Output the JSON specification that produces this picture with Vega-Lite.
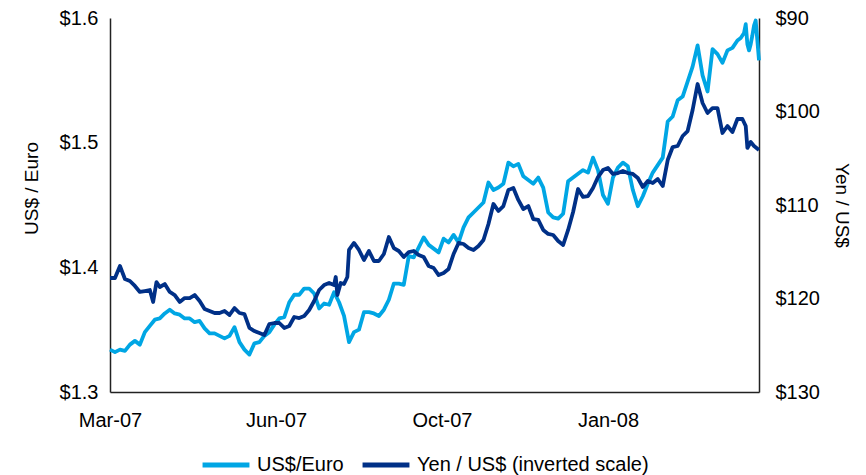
{
  "$schema": "https://vega.github.io/schema/vega-lite/v6.json",
  "width": 649,
  "height": 374,
  "autosize": {"type": "none"},
  "padding": {"left": 110, "top": 18, "right": 107, "bottom": 83},
  "background": "white",
  "config": {
    "view": {"stroke": null},
    "font": "Liberation Sans",
    "axis": {
      "grid": false,
      "ticks": false,
      "domainColor": "#222222",
      "domainWidth": 1.5,
      "labelFont": "Liberation Sans",
      "labelFontSize": 20,
      "labelColor": "#000000",
      "titleFont": "Liberation Sans",
      "titleFontSize": 19,
      "titleFontWeight": "normal",
      "titleColor": "#000000"
    }
  },
  "datasets": {
    "euro": [
      {"date":"2007-03-18","v":1.334},{"date":"2007-03-21","v":1.332},{"date":"2007-03-24","v":1.334},{"date":"2007-03-27","v":1.333},
      {"date":"2007-03-30","v":1.338},{"date":"2007-04-02","v":1.341},{"date":"2007-04-05","v":1.338},{"date":"2007-04-08","v":1.348},
      {"date":"2007-04-11","v":1.353},{"date":"2007-04-14","v":1.358},{"date":"2007-04-17","v":1.359},{"date":"2007-04-20","v":1.363},
      {"date":"2007-04-23","v":1.366},{"date":"2007-04-26","v":1.363},{"date":"2007-04-29","v":1.362},{"date":"2007-05-02","v":1.359},
      {"date":"2007-05-05","v":1.359},{"date":"2007-05-08","v":1.356},{"date":"2007-05-11","v":1.357},{"date":"2007-05-14","v":1.351},
      {"date":"2007-05-17","v":1.347},{"date":"2007-05-20","v":1.347},{"date":"2007-05-23","v":1.345},{"date":"2007-05-26","v":1.343},
      {"date":"2007-05-29","v":1.345},{"date":"2007-06-01","v":1.352},{"date":"2007-06-04","v":1.340},{"date":"2007-06-07","v":1.334},
      {"date":"2007-06-10","v":1.330},{"date":"2007-06-13","v":1.339},{"date":"2007-06-16","v":1.340},{"date":"2007-06-19","v":1.345},
      {"date":"2007-06-22","v":1.348},{"date":"2007-06-25","v":1.354},{"date":"2007-06-28","v":1.359},{"date":"2007-07-01","v":1.360},
      {"date":"2007-07-04","v":1.372},{"date":"2007-07-07","v":1.378},{"date":"2007-07-10","v":1.378},{"date":"2007-07-13","v":1.383},
      {"date":"2007-07-16","v":1.383},{"date":"2007-07-19","v":1.379},{"date":"2007-07-22","v":1.367},{"date":"2007-07-25","v":1.371},
      {"date":"2007-07-28","v":1.370},{"date":"2007-07-31","v":1.380},{"date":"2007-08-03","v":1.372},{"date":"2007-08-06","v":1.361},
      {"date":"2007-08-09","v":1.340},{"date":"2007-08-12","v":1.348},{"date":"2007-08-15","v":1.350},{"date":"2007-08-18","v":1.364},
      {"date":"2007-08-21","v":1.364},{"date":"2007-08-24","v":1.363},{"date":"2007-08-27","v":1.361},{"date":"2007-08-30","v":1.366},
      {"date":"2007-09-02","v":1.374},{"date":"2007-09-05","v":1.387},{"date":"2007-09-08","v":1.387},{"date":"2007-09-11","v":1.386},
      {"date":"2007-09-14","v":1.409},{"date":"2007-09-17","v":1.408},{"date":"2007-09-20","v":1.416},{"date":"2007-09-23","v":1.424},
      {"date":"2007-09-26","v":1.418},{"date":"2007-09-29","v":1.415},{"date":"2007-10-02","v":1.412},{"date":"2007-10-05","v":1.423},
      {"date":"2007-10-08","v":1.420},{"date":"2007-10-11","v":1.426},{"date":"2007-10-14","v":1.420},{"date":"2007-10-17","v":1.432},
      {"date":"2007-10-20","v":1.440},{"date":"2007-10-23","v":1.444},{"date":"2007-10-26","v":1.448},{"date":"2007-10-29","v":1.452},
      {"date":"2007-11-01","v":1.468},{"date":"2007-11-04","v":1.462},{"date":"2007-11-07","v":1.464},{"date":"2007-11-10","v":1.467},
      {"date":"2007-11-13","v":1.484},{"date":"2007-11-16","v":1.481},{"date":"2007-11-19","v":1.483},{"date":"2007-11-22","v":1.473},
      {"date":"2007-11-25","v":1.470},{"date":"2007-11-28","v":1.467},{"date":"2007-12-01","v":1.472},{"date":"2007-12-04","v":1.464},
      {"date":"2007-12-07","v":1.444},{"date":"2007-12-10","v":1.440},{"date":"2007-12-13","v":1.439},{"date":"2007-12-16","v":1.443},
      {"date":"2007-12-19","v":1.469},{"date":"2007-12-22","v":1.472},{"date":"2007-12-25","v":1.475},{"date":"2007-12-28","v":1.478},
      {"date":"2007-12-31","v":1.476},{"date":"2008-01-03","v":1.488},{"date":"2008-01-06","v":1.478},{"date":"2008-01-09","v":1.458},
      {"date":"2008-01-12","v":1.451},{"date":"2008-01-15","v":1.472},{"date":"2008-01-18","v":1.480},{"date":"2008-01-21","v":1.484},
      {"date":"2008-01-24","v":1.481},{"date":"2008-01-27","v":1.462},{"date":"2008-01-30","v":1.449},{"date":"2008-02-02","v":1.457},
      {"date":"2008-02-05","v":1.467},{"date":"2008-02-08","v":1.476},{"date":"2008-02-11","v":1.482},{"date":"2008-02-14","v":1.488},
      {"date":"2008-02-17","v":1.517},{"date":"2008-02-20","v":1.521},{"date":"2008-02-23","v":1.534},{"date":"2008-02-26","v":1.537},
      {"date":"2008-02-29","v":1.549},{"date":"2008-03-03","v":1.561},{"date":"2008-03-06","v":1.578},{"date":"2008-03-09","v":1.554},
      {"date":"2008-03-12","v":1.541},{"date":"2008-03-15","v":1.575},{"date":"2008-03-18","v":1.571},{"date":"2008-03-21","v":1.564},
      {"date":"2008-03-24","v":1.574},{"date":"2008-03-27","v":1.576},{"date":"2008-03-30","v":1.582},{"date":"2008-04-01","v":1.584},
      {"date":"2008-04-03","v":1.588},{"date":"2008-04-04","v":1.595},{"date":"2008-04-05","v":1.579},{"date":"2008-04-06","v":1.574},
      {"date":"2008-04-07","v":1.579},{"date":"2008-04-08","v":1.586},{"date":"2008-04-09","v":1.594},{"date":"2008-04-10","v":1.598},
      {"date":"2008-04-11","v":1.582},{"date":"2008-04-12","v":1.566}
    ],
    "yen": [
      {"date":"2007-03-18","v":117.81},{"date":"2007-03-21","v":117.81},{"date":"2007-03-24","v":116.52},{"date":"2007-03-27","v":117.91},
      {"date":"2007-03-30","v":118.13},{"date":"2007-04-02","v":118.66},{"date":"2007-04-05","v":119.30},{"date":"2007-04-08","v":119.20},
      {"date":"2007-04-11","v":119.09},{"date":"2007-04-13","v":120.37},{"date":"2007-04-15","v":118.24},{"date":"2007-04-17","v":118.77},
      {"date":"2007-04-20","v":118.45},{"date":"2007-04-23","v":119.30},{"date":"2007-04-26","v":119.63},{"date":"2007-04-29","v":120.37},
      {"date":"2007-05-02","v":119.95},{"date":"2007-05-05","v":119.95},{"date":"2007-05-08","v":119.63},{"date":"2007-05-11","v":120.27},
      {"date":"2007-05-14","v":121.12},{"date":"2007-05-17","v":121.34},{"date":"2007-05-20","v":121.55},{"date":"2007-05-23","v":121.55},
      {"date":"2007-05-26","v":121.34},{"date":"2007-05-29","v":121.76},{"date":"2007-06-01","v":121.02},{"date":"2007-06-04","v":121.55},
      {"date":"2007-06-07","v":121.66},{"date":"2007-06-10","v":123.15},{"date":"2007-06-13","v":123.48},{"date":"2007-06-16","v":123.69},
      {"date":"2007-06-19","v":123.90},{"date":"2007-06-22","v":122.73},{"date":"2007-06-25","v":122.62},{"date":"2007-06-28","v":122.62},
      {"date":"2007-07-01","v":123.15},{"date":"2007-07-04","v":122.94},{"date":"2007-07-07","v":121.98},{"date":"2007-07-10","v":122.09},
      {"date":"2007-07-13","v":121.87},{"date":"2007-07-16","v":121.23},{"date":"2007-07-19","v":120.27},{"date":"2007-07-22","v":119.09},
      {"date":"2007-07-25","v":118.56},{"date":"2007-07-28","v":118.34},{"date":"2007-07-31","v":118.56},{"date":"2007-08-01","v":117.70},
      {"date":"2007-08-02","v":119.63},{"date":"2007-08-04","v":118.34},{"date":"2007-08-06","v":118.45},{"date":"2007-08-08","v":117.70},
      {"date":"2007-08-09","v":114.81},{"date":"2007-08-12","v":114.06},{"date":"2007-08-15","v":114.81},{"date":"2007-08-18","v":115.88},
      {"date":"2007-08-21","v":114.92},{"date":"2007-08-24","v":115.99},{"date":"2007-08-27","v":115.99},{"date":"2007-08-30","v":115.24},
      {"date":"2007-09-02","v":113.42},{"date":"2007-09-05","v":114.60},{"date":"2007-09-08","v":114.92},{"date":"2007-09-11","v":115.56},
      {"date":"2007-09-14","v":115.03},{"date":"2007-09-17","v":114.92},{"date":"2007-09-20","v":115.35},{"date":"2007-09-23","v":115.56},
      {"date":"2007-09-26","v":116.52},{"date":"2007-09-29","v":116.74},{"date":"2007-10-02","v":117.49},{"date":"2007-10-05","v":117.27},
      {"date":"2007-10-08","v":116.84},{"date":"2007-10-11","v":115.24},{"date":"2007-10-14","v":114.06},{"date":"2007-10-17","v":114.17},
      {"date":"2007-10-20","v":114.60},{"date":"2007-10-23","v":114.81},{"date":"2007-10-26","v":114.38},{"date":"2007-10-29","v":113.74},
      {"date":"2007-11-01","v":112.03},{"date":"2007-11-04","v":109.89},{"date":"2007-11-07","v":110.64},{"date":"2007-11-10","v":110.11},
      {"date":"2007-11-13","v":108.40},{"date":"2007-11-16","v":108.18},{"date":"2007-11-19","v":109.46},{"date":"2007-11-22","v":110.43},
      {"date":"2007-11-25","v":110.11},{"date":"2007-11-28","v":111.50},{"date":"2007-12-01","v":111.60},{"date":"2007-12-04","v":112.67},
      {"date":"2007-12-07","v":113.10},{"date":"2007-12-10","v":113.21},{"date":"2007-12-13","v":113.85},{"date":"2007-12-16","v":114.28},
      {"date":"2007-12-19","v":112.67},{"date":"2007-12-22","v":110.75},{"date":"2007-12-25","v":108.29},{"date":"2007-12-28","v":109.14},
      {"date":"2007-12-31","v":109.04},{"date":"2008-01-03","v":108.18},{"date":"2008-01-06","v":107.01},{"date":"2008-01-09","v":106.26},
      {"date":"2008-01-12","v":106.04},{"date":"2008-01-15","v":106.68},{"date":"2008-01-18","v":106.58},{"date":"2008-01-21","v":106.36},
      {"date":"2008-01-24","v":106.58},{"date":"2008-01-27","v":106.68},{"date":"2008-01-30","v":107.11},{"date":"2008-02-02","v":108.07},
      {"date":"2008-02-05","v":107.43},{"date":"2008-02-08","v":107.65},{"date":"2008-02-11","v":107.22},{"date":"2008-02-14","v":107.97},
      {"date":"2008-02-17","v":105.19},{"date":"2008-02-20","v":103.80},{"date":"2008-02-23","v":103.69},{"date":"2008-02-26","v":102.62},
      {"date":"2008-02-29","v":102.09},{"date":"2008-03-03","v":99.84},{"date":"2008-03-06","v":97.06},{"date":"2008-03-09","v":99.09},
      {"date":"2008-03-12","v":100.16},{"date":"2008-03-15","v":99.63},{"date":"2008-03-18","v":99.63},{"date":"2008-03-21","v":102.30},
      {"date":"2008-03-24","v":101.55},{"date":"2008-03-27","v":102.19},{"date":"2008-03-30","v":100.80},{"date":"2008-04-02","v":100.80},
      {"date":"2008-04-04","v":101.55},{"date":"2008-04-05","v":103.90},{"date":"2008-04-07","v":103.26},{"date":"2008-04-09","v":103.69},
      {"date":"2008-04-12","v":104.12}
    ]
  },
  "layer": [
    {
      "data": {"name": "euro"},
      "mark": {"type": "line", "strokeWidth": 3.8, "strokeJoin": "round"},
      "encoding": {
        "x": {
          "field": "date", "type": "temporal",
          "scale": {"domain": [{"year": 2007, "month": 3, "date": 18, "utc": true}, {"year": 2008, "month": 4, "date": 12, "utc": true}]},
          "axis": {
            "title": null,
            "values": [{"year": 2007, "month": 3, "date": 18, "utc": true}, {"year": 2007, "month": 6, "date": 26, "utc": true}, {"year": 2007, "month": 10, "date": 4, "utc": true}, {"year": 2008, "month": 1, "date": 12, "utc": true}],
            "format": "%b-%y",
            "labelPadding": 18,
            "labelFlush": false,
            "labelOverlap": false
          }
        },
        "y": {
          "field": "v", "type": "quantitative",
          "scale": {"domain": [1.3, 1.6], "zero": false, "nice": false},
          "axis": {"orient": "left", "title": "US$ / Euro", "values": [1.3, 1.4, 1.5, 1.6], "format": "$.1f", "labelPadding": 12, "titlePadding": 18, "titleY": 170}
        },
        "color": {
          "datum": "US$/Euro", "type": "nominal",
          "scale": {"domain": ["US$/Euro", "Yen / US$ (inverted scale)"], "range": ["#00A6E4", "#003087"]},
          "legend": {
            "orient": "none", "legendX": 90, "legendY": 421, "direction": "horizontal", "title": null,
            "symbolType": "stroke", "symbolSize": 2200, "symbolStrokeWidth": 5,
            "labelFont": "Liberation Sans", "labelFontSize": 20, "labelColor": "#000000", "labelOffset": 5, "labelLimit": 400, "columnPadding": 8
          }
        }
      }
    },
    {
      "data": {"name": "yen"},
      "mark": {"type": "line", "strokeWidth": 3.8, "strokeJoin": "round"},
      "encoding": {
        "x": {"field": "date", "type": "temporal"},
        "y": {
          "field": "v", "type": "quantitative",
          "scale": {"domain": [90, 130], "reverse": true, "zero": false, "nice": false},
          "axis": {"orient": "right", "title": "Yen / US$", "values": [90, 100, 110, 120, 130], "format": "$.0f", "labelPadding": 16, "titlePadding": 12}
        },
        "color": {"datum": "Yen / US$ (inverted scale)", "type": "nominal"}
      }
    }
  ],
  "resolve": {"scale": {"y": "independent"}}
}
